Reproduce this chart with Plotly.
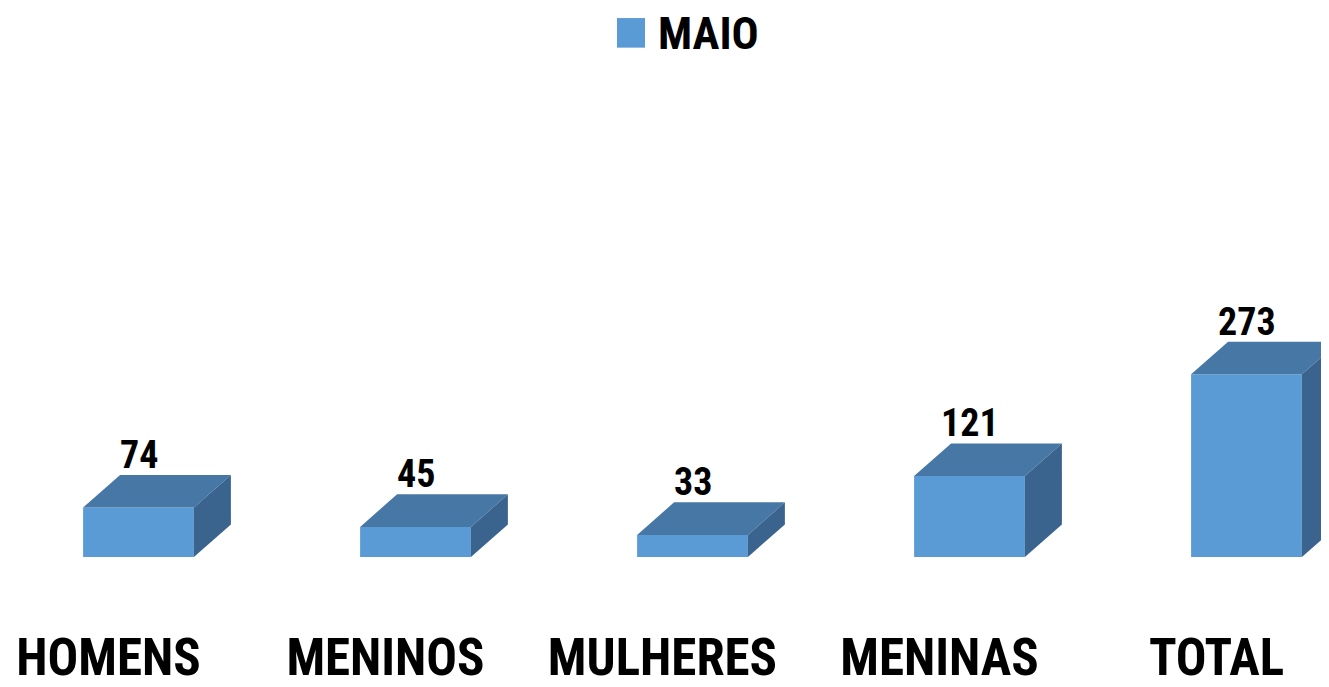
import plotly.graph_objects as go

categories = ["HOMENS", "MENINOS", "MULHERES", "MENINAS", "TOTAL"]
values_maio = [74, 45, 33, 121, 273]
series_name = "MAIO"

# the page body adds an 8px margin, so the figure is laid out 8px smaller
OFF = 8
W, H = 1329 - OFF, 687 - OFF
M_L, M_R, M_T, M_B = 0, 0, 90, 124
PX_PER_CAT = 277
X_MIN = -(138.5 - OFF) / PX_PER_CAT
X_MAX = X_MIN + (W - M_L - M_R) / PX_PER_CAT
PX_PER_UNIT_Y = 0.678
plot_h = H - M_T - M_B
Y_MAX = plot_h / PX_PER_UNIT_Y

BAR_W = 0.4
DX = 37 / PX_PER_CAT         # depth offset in x data units
DY = 33 / PX_PER_UNIT_Y      # depth offset in y data units
LABEL_SHIFT = -30 / PX_PER_CAT

FRONT = "#5B9BD5"
TOP = "#4677A5"
SIDE = "#3A648E"
FONT = "Liberation Sans Narrow, Arial Narrow, Roboto Condensed, DejaVu Sans Condensed, sans-serif"

xs = list(range(len(categories)))
fig = go.Figure()

# front faces
fig.add_trace(go.Bar(x=xs, y=values_maio, width=BAR_W, marker=dict(color=FRONT, line=dict(width=0)),
                     name=series_name, showlegend=False, hoverinfo="skip"))

# top and side faces
for x, v in zip(xs, values_maio):
    x0, x1 = x - BAR_W / 2, x + BAR_W / 2
    fig.add_trace(go.Scatter(
        x=[x0, x1, x1 + DX, x0 + DX, x0], y=[v, v, v + DY, v + DY, v],
        fill="toself", fillcolor=TOP, mode="lines", line=dict(width=0, color=TOP),
        showlegend=False, hoverinfo="skip"))
    fig.add_trace(go.Scatter(
        x=[x1, x1, x1 + DX, x1 + DX, x1], y=[0, v, v + DY, DY, 0],
        fill="toself", fillcolor=SIDE, mode="lines", line=dict(width=0, color=SIDE),
        showlegend=False, hoverinfo="skip"))
    fig.add_annotation(x=x, y=v + DY, text=f"<b>{v}</b>", showarrow=False,
                       yanchor="bottom", yshift=-4,
                       font=dict(family=FONT, size=38, color="black"))

# legend (manual, large)
pw = W - M_L - M_R
fig.add_shape(type="rect", xref="paper", yref="paper",
              x0=(617 - OFF - M_L) / pw, x1=(645 - OFF - M_L) / pw,
              y0=(H - M_B - (47 - OFF)) / plot_h, y1=(H - M_B - (17 - OFF)) / plot_h,
              line=dict(width=0), fillcolor=FRONT)
fig.add_annotation(xref="paper", yref="paper",
                   x=(657 - OFF - M_L) / pw, y=(H - M_B - (33 - OFF)) / plot_h,
                   xanchor="left", yanchor="middle", showarrow=False, borderpad=0,
                   text=f"<b>{series_name}</b>", font=dict(family=FONT, size=45, color="black"))

fig.update_layout(
    width=W, height=H,
    margin=dict(l=M_L, r=M_R, t=M_T, b=M_B),
    plot_bgcolor="white", paper_bgcolor="white",
    showlegend=False,
    xaxis=dict(range=[X_MIN, X_MAX], tickmode="array",
               tickvals=[x + LABEL_SHIFT for x in xs],
               ticktext=[f"<b>{c}</b>" for c in categories],
               tickfont=dict(family=FONT, size=51, color="black"),
               showgrid=False, zeroline=False, showline=False, ticks="",
               ticklabelstandoff=66, fixedrange=True),
    yaxis=dict(range=[0, Y_MAX], visible=False, showgrid=False, zeroline=False, fixedrange=True),
)

fig.write_html("out.html")
